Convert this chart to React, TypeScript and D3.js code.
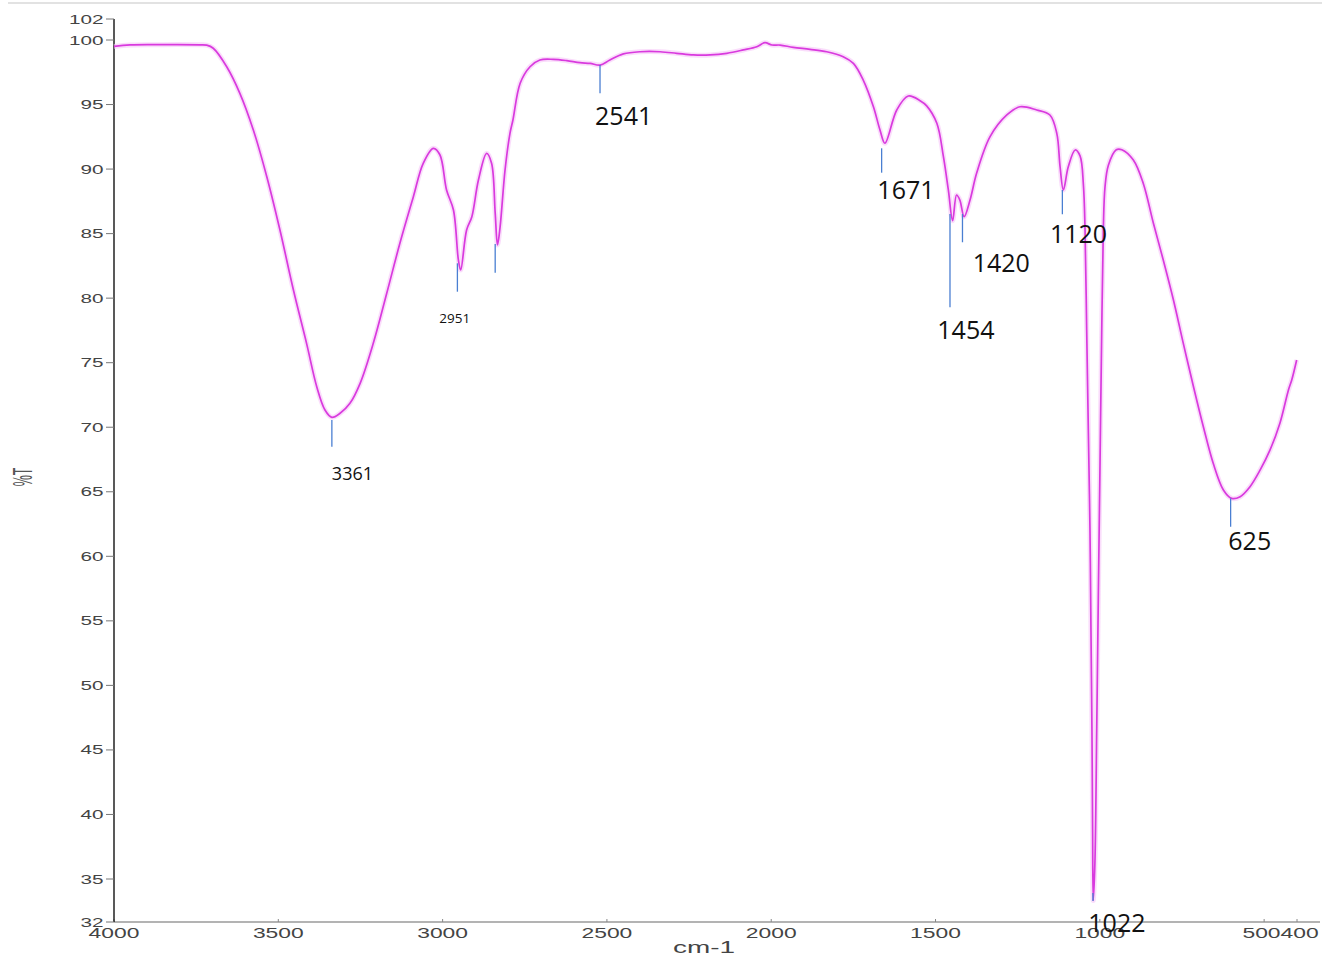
import React from "react";
import * as d3 from "d3";

// ---- data ----
const wavenumbers = [
  4000, 3951, 3860, 3738, 3718, 3698, 3657, 3617, 3576, 3535, 3495, 3454, 3414, 3383, 3358, 3337, 3312, 3282, 3251, 3211,
  3170, 3130, 3089, 3059, 3028, 3008, 2988, 2967, 2952, 2945, 2927, 2911, 2891, 2866, 2851, 2840, 2833, 2825, 2810, 2795,
  2786, 2764, 2734, 2704, 2663, 2622, 2582, 2551, 2521, 2491, 2450, 2399, 2338, 2288, 2237, 2186, 2135, 2085, 2044, 2019,
  1998, 1973, 1933, 1882, 1831, 1781, 1750, 1720, 1689, 1669, 1654, 1618, 1583, 1547, 1527, 1496, 1476, 1461, 1448, 1436,
  1426, 1413, 1395, 1375, 1334, 1283, 1243, 1192, 1152, 1131, 1121, 1111, 1096, 1075, 1060, 1050, 1045, 1040, 1035, 1030,
  1027, 1024, 1022, 1020, 1015, 1009.5, 1004.6, 999.4, 994.2, 989.4, 984.2, 974, 950, 933, 898, 868, 837, 807, 776, 746,
  715, 685, 655, 624, 599, 573, 543, 512, 482, 452, 426, 416, 401,
];
const transmittance = [
  99.5, 99.62, 99.64, 99.63, 99.6, 99.36, 97.93, 95.87, 93.03, 89.41, 85.28, 80.63, 76.5, 73.14, 71.34, 70.77, 71.08, 71.85, 73.4, 76.5,
  80.38, 84.25, 87.86, 90.45, 91.61, 91.09, 88.38, 86.83, 82.96, 82.18, 85.28, 86.31, 89.15, 91.22, 90.45, 86.6, 84.12, 85.54, 89.93, 92.77,
  93.8, 96.65, 97.93, 98.45, 98.5, 98.4, 98.24, 98.19, 98.06, 98.45, 98.92, 99.09, 99.09, 98.97, 98.84, 98.84, 98.97, 99.23, 99.48, 99.79,
  99.61, 99.61, 99.43, 99.28, 99.09, 98.71, 98.19, 96.9, 94.83, 93.03, 92.0, 94.58, 95.66, 95.3, 94.9, 93.55, 90.96, 88.38, 86.0, 87.99,
  87.6, 86.31, 87.6, 89.67, 92.51, 94.19, 94.83, 94.58, 94.19, 92.77, 90.18, 88.38, 90.18, 91.48, 91.0, 88.77, 85.28, 77.53, 69.79, 62.04,
  54.29, 46.55, 38.8, 33.5, 36.24, 46.55, 56.85, 67.23, 77.53, 85.28, 88.63, 90.3, 91.5, 91.5, 90.7, 88.9, 85.8, 82.96, 79.86, 76.5,
  73.14, 70.04, 67.21, 65.14, 64.49, 64.62, 65.39, 66.69, 68.24, 70.31, 72.89, 73.66, 75.21,
];

const yTicks = [32, 35, 40, 45, 50, 55, 60, 65, 70, 75, 80, 85, 90, 95, 100, 102];
const xTicks = [4000, 3500, 3000, 2500, 2000, 1500, 1000, 500, 400];

// peak marker lines (wavenumber, top %T, bottom %T)
const markerWn = [3337, 2955, 2840, 2521, 1664, 1456, 1418, 1114, 602, 1021];
const markerTop = [70.56, 82.7, 84.2, 98.06, 91.61, 86.52, 86.52, 88.38, 64.49, 34.02];
const markerBottom = [68.49, 80.5, 81.97, 95.87, 89.72, 79.29, 84.33, 86.5, 62.29, 33.46];

// peak labels (text, left wavenumber, baseline %T, size)
const labelText = ["3361", "2951", "2541", "1671", "1454", "1420", "1120", "625", "1022"];
const labelWn = [3337, 3010, 2536, 1677, 1494.5, 1387, 1152, 609, 1035];
const labelT = [65.91, 78.05, 93.41, 87.66, 76.81, 82.05, 84.25, 60.49, 31.32];
const labelSize = [18, 13.5, 25, 25, 25, 25, 25, 25, 25];

const W = 1331;
const H = 963;

export default function App() {
  const x = d3.scaleLinear().domain([4000, 400]).range([114, 1297]);
  const y = d3.scaleLinear().domain([32, 35, 100, 102]).range([922, 879, 40, 19]);

  const line = d3
    .line<number>()
    .x((_, i) => x(wavenumbers[i]))
    .y((d) => y(d))
    .curve(d3.curveCatmullRom.alpha(0.5));
  const path = line(transmittance) || "";

  const axisFont = "Liberation Sans, Arial, sans-serif";
  const n = xTicks.length;

  return (
    <svg
      width={W}
      height={H}
      style={{ position: "absolute", left: 0, top: 0, background: "#fff" }}
    >
      {/* top frame line */}
      <line x1={8} x2={1322} y1={3} y2={3} stroke="#e2e2e2" strokeWidth={2} />

      {/* x axis */}
      <line x1={x(4000)} x2={1320} y1={y(32)} y2={y(32)} stroke="#9a9a9a" strokeWidth={1.5} />
      {xTicks.map((t, i) => {
        const label = String(t);
        let anchor: "middle" | "end" | "start" = "middle";
        let tx = x(t);
        if (i === n - 2) {
          anchor = "end";
          tx = (x(xTicks[n - 2]) + x(xTicks[n - 1])) / 2;
        } else if (i === n - 1) {
          anchor = "start";
          tx = (x(xTicks[n - 2]) + x(xTicks[n - 1])) / 2;
        }
        return (
          <g key={"xt" + t}>
            <line x1={x(t)} x2={x(t)} y1={y(32)} y2={y(32) - 3} stroke="#888" strokeWidth={1} />
            <text
              x={tx}
              y={938}
              fontFamily={axisFont}
              fontSize={15}
              fill="#444"
              textAnchor={anchor}
              textLength={label.length * 12.7}
              lengthAdjust="spacingAndGlyphs"
            >
              {label}
            </text>
          </g>
        );
      })}
      <text
        x={704}
        y={953}
        fontFamily={axisFont}
        fontSize={16}
        fill="#444"
        textAnchor="middle"
        textLength={62}
        lengthAdjust="spacingAndGlyphs"
      >
        cm-1
      </text>

      {/* y axis */}
      <line x1={x(4000)} x2={x(4000)} y1={y(102)} y2={y(32)} stroke="#222" strokeWidth={1.5} />
      {yTicks.map((t) => {
        const label = String(t);
        return (
          <g key={"yt" + t}>
            <line x1={x(4000) - 8} x2={x(4000)} y1={y(t)} y2={y(t)} stroke="#777" strokeWidth={1} />
            <text
              x={103.5}
              y={y(t)}
              dy="0.36em"
              fontFamily={axisFont}
              fontSize={12.5}
              fill="#444"
              textAnchor="end"
              textLength={label.length * 11.5}
              lengthAdjust="spacingAndGlyphs"
            >
              {label}
            </text>
          </g>
        );
      })}
      <text
        transform="translate(32,477) rotate(-90) scale(1,2.2)"
        fontFamily={axisFont}
        fontSize={12.5}
        fill="#555"
        textAnchor="middle"
      >
        %T
      </text>

      {/* spectrum */}
      <path d={path} fill="none" stroke="#f6c6f8" strokeWidth={5} strokeOpacity={0.6} strokeLinejoin="round" />
      <path d={path} fill="none" stroke="#d93ade" strokeWidth={1.7} strokeLinejoin="round" />

      {/* peak markers */}
      {markerWn.map((w, i) => (
        <line
          key={"m" + i}
          x1={x(w)}
          x2={x(w)}
          y1={y(markerTop[i])}
          y2={y(markerBottom[i])}
          stroke="#4a7fd2"
          strokeWidth={1.3}
        />
      ))}

      {/* peak labels */}
      {labelText.map((t, i) => (
        <text
          key={"l" + i}
          x={x(labelWn[i])}
          y={y(labelT[i])}
          fontFamily="Open Sans, sans-serif"
          fontSize={labelSize[i]}
          fill="#111"
        >
          {t}
        </text>
      ))}
    </svg>
  );
}
